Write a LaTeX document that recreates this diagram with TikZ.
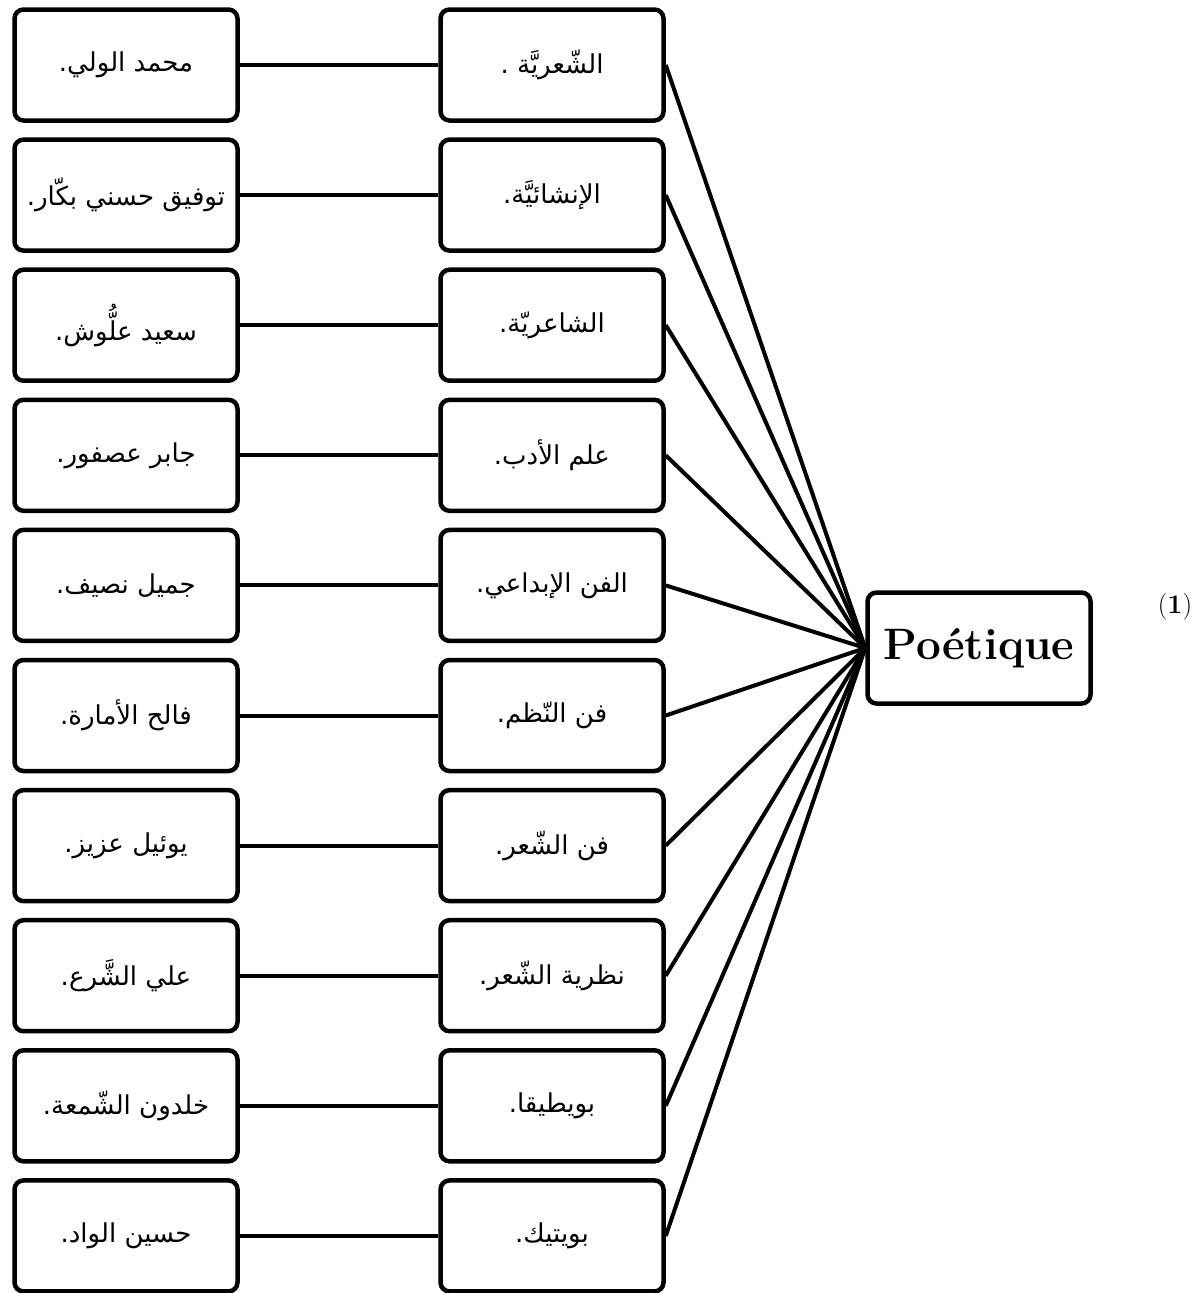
\documentclass[tikz,border=0pt]{standalone}
\usepackage{fontspec}
\newfontfamily\arabicfont[Script=Arabic]{DejaVu Sans}
\TeXXeTstate=1
\usetikzlibrary{positioning}
\tikzset{
  term/.style={rectangle, draw=black, line width=4.5pt, rounded corners=9pt,
    minimum width=223pt, minimum height=111pt, inner sep=0pt, align=center},
  link/.style={line width=4pt}
}
\newcommand{\ar}[1]{{\arabicfont\fontsize{26}{30}\selectfont\beginR #1\endR}}

\begin{document}
\begin{tikzpicture}[x=1pt, y=-1pt]
\useasboundingbox (0,0) rectangle (1203,1293);

% central term
\node[term, font=\fontsize{44}{52}\selectfont\bfseries] (poetique) at (979,648) {Poétique};
\node[font=\fontsize{27}{32}\selectfont] (note) at (1175,607) {(\textbf{1})};

% names on the left, Arabic terms in the middle
\foreach \i/\name/\word in {
  1/محمد الولي./الشّعريَّة .,
  2/توفيق حسني بكّار./الإنشائيَّة.,
  3/سعيد علُّوش./الشاعريّة.,
  4/جابر عصفور./علم الأدب.,
  5/جميل نصيف./الفن الإبداعي.,
  6/فالح الأمارة./فن النّظم.,
  7/يوئيل عزيز./فن الشّعر.,
  8/علي الشَّرع./نظرية الشّعر.,
  9/خلدون الشّمعة./بويطيقا.,
  10/حسين الواد./بويتيك.}{
  \node[term] (name\i) at (126, {65+130.1*(\i-1)}) {\ar{\name}};
  \node[term] (word\i) at (552, {65+130.1*(\i-1)}) {\ar{\word}};
  \draw[link] (name\i) -- (word\i);
  \draw[link] (word\i.east) -- (poetique.west);
}

\end{tikzpicture}
\end{document}
